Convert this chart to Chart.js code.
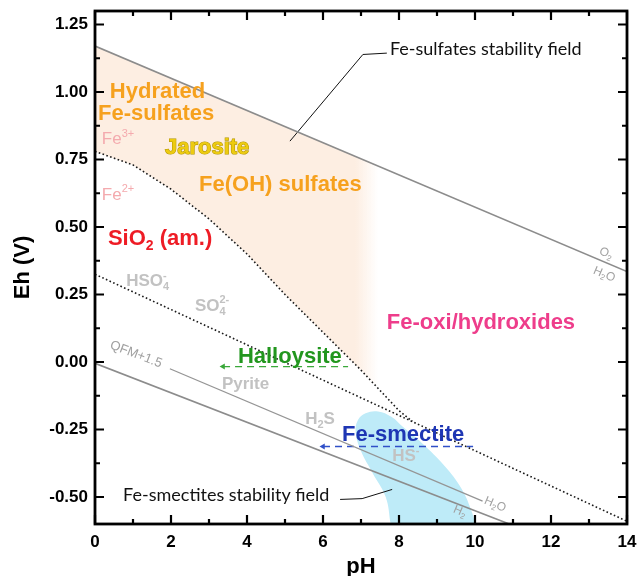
<!DOCTYPE html>
<html>
<head>
<meta charset="utf-8">
<script src="https://cdn.jsdelivr.net/npm/chart.js@4"></script>
<style>
  html, body { margin: 0; padding: 0; background: #fff; }
  #wrap { width: 643px; height: 576px; }
</style>
</head>
<body>
<div id="wrap"><canvas id="grafico"></canvas></div>
<script>
// Eh-pH boundaries, as [pH, Eh]
const o2Line = [[0, 1.17], [14, 0.335]];
const h2oLine = [[0, -0.005], [10.9, -0.6]];
const qfmLine = [[1.97, -0.025], [10.2, -0.515]];
const sulfurLine = [[0, 0.325], [14, -0.59]];
const ironLine = [[0, 0.78], [1, 0.73], [2, 0.64], [3, 0.53], [4, 0.40], [5, 0.25], [6, 0.11], [7, -0.03], [8, -0.18], [8.35, -0.22]];

// shaded fields
const sulfatesField = [[0, 1.17], [7.45, 0.726], [7.45, -0.0975], [7, -0.03], [6, 0.11], [5, 0.25], [4, 0.40], [3, 0.53], [2, 0.64], [1, 0.73], [0, 0.78], [0, 1.17]];
const smectiteField = [[7.78, -0.6], [7.65, -0.5], [7.3, -0.41], [7.0, -0.33], [6.86, -0.26], [6.92, -0.215], [7.12, -0.19], [7.45, -0.183], [7.8, -0.203], [8.1, -0.24], [8.6, -0.3], [9.2, -0.385], [9.65, -0.47], [9.93, -0.56], [10.0, -0.6]];

// arrows and pointer lines
const halloysiteArrow = [[3.37, -0.017], [6.66, -0.017]];
const smectiteArrow = [[6.0, -0.313], [9.95, -0.313]];
const sulfatesPointer = [[5.13, 0.818], [7.05, 1.139], [7.68, 1.144]];
const smectitesPointer = [[6.45, -0.509], [7.03, -0.506], [7.82, -0.472]];

const xTicks = [0, 2, 4, 6, 8, 10, 12, 14];
const yTicks = [-0.5, -0.25, 0, 0.25, 0.5, 0.75, 1.0, 1.25];

const family = "'Liberation Sans', Arial, sans-serif";
const noteFamily = "Lato, 'Open Sans', sans-serif";

// text in the diagram: _x_ = subscript, ^x^ = superscript
const fieldLabels = [
  {text: 'Hydrated', x: 0.39, y: 1.0, size: 22, weight: 'bold', color: '#F6A11E'},
  {text: 'Fe-sulfates', x: 0.08, y: 0.917, size: 22, weight: 'bold', color: '#F6A11E'},
  {text: 'Fe^3+^', x: 0.18, y: 0.824, size: 17, color: '#F4AAAE'},
  {text: 'Jarosite', x: 1.84, y: 0.794, size: 22, weight: 'bold', color: '#EDCB10', stroke: '#B09400'},
  {text: 'Fe(OH) sulfates', x: 2.74, y: 0.657, size: 22, weight: 'bold', color: '#F6A11E'},
  {text: 'Fe^2+^', x: 0.18, y: 0.617, size: 17, color: '#F4AAAE'},
  {text: 'SiO_2_ (am.)', x: 0.34, y: 0.454, size: 22, weight: 'bold', color: '#EE1C25'},
  {text: 'HSO_4_^-^', x: 0.82, y: 0.298, size: 17, weight: 'bold', color: '#C2C2C2'},
  {text: 'SO_4_^2-^', x: 2.63, y: 0.206, size: 17, weight: 'bold', color: '#C2C2C2'},
  {text: 'Fe-oxi/hydroxides', x: 7.68, y: 0.146, size: 22, weight: 'bold', color: '#EE3D8B'},
  {text: 'Halloysite', x: 3.76, y: 0.02, size: 22, weight: 'bold', color: '#22961E'},
  {text: 'Pyrite', x: 3.34, y: -0.083, size: 17, weight: 'bold', color: '#C2C2C2'},
  {text: 'QFM+1.5', x: 1.08, y: 0.028, size: 13, color: '#A0A0A0', rot: 21, align: 'center'},
  {text: 'H_2_S', x: 5.53, y: -0.213, size: 17, weight: 'bold', color: '#C2C2C2'},
  {text: 'Fe-smectite', x: 6.5, y: -0.269, size: 22, weight: 'bold', color: '#1E36B4'},
  {text: 'HS^-^', x: 7.82, y: -0.35, size: 17, weight: 'bold', color: '#C2C2C2'},
  {text: 'H_2_O', x: 10.53, y: -0.528, size: 12, color: '#A0A0A0', rot: 23, align: 'center'},
  {text: 'H_2_', x: 9.6, y: -0.554, size: 12, color: '#A0A0A0', rot: 23, align: 'center'},
  {text: 'O_2_', x: 13.45, y: 0.402, size: 12, color: '#A0A0A0', rot: 23, align: 'center'},
  {text: 'H_2_O', x: 13.4, y: 0.324, size: 12, color: '#A0A0A0', rot: 23, align: 'center'},
  {text: 'Fe-sulfates stability field', x: 7.76, y: 1.157, size: 18, color: '#111', family: noteFamily},
  {text: 'Fe-smectites stability field', x: 0.74, y: -0.494, size: 18, color: '#111', family: noteFamily}
];

const pts = arr => arr.map(([x, y]) => ({x, y}));

function parts(str) {
  const out = [];
  const re = /_([^_]+)_|\^([^^]+)\^|([^_^]+)/g;
  let m;
  while ((m = re.exec(str))) {
    if (m[1]) out.push({t: m[1], k: 'sub'});
    else if (m[2]) out.push({t: m[2], k: 'sup'});
    else out.push({t: m[3], k: ''});
  }
  return out;
}

function drawRich(ctx, lab, px, py) {
  const ps = parts(lab.text);
  const small = Math.round(lab.size * 0.65);
  const fontFor = p => `${lab.weight || 'normal'} ${p.k ? small : lab.size}px ${lab.family || family}`;
  let cx = 0, prev = null, subStart = 0;
  const placed = ps.map(p => {
    ctx.font = fontFor(p);
    const w = ctx.measureText(p.t).width;
    let x0 = cx;
    if (p.k === 'sup' && prev && prev.k === 'sub') {
      x0 = subStart;
      cx = Math.max(cx, x0 + w);
    } else {
      cx = x0 + w;
    }
    if (p.k === 'sub') subStart = x0;
    prev = p;
    return {p, x0};
  });
  const start = lab.align === 'center' ? -cx / 2 : 0;
  ctx.save();
  ctx.translate(px, py);
  if (lab.rot) ctx.rotate(lab.rot * Math.PI / 180);
  ctx.textBaseline = 'middle';
  ctx.textAlign = 'left';
  placed.forEach(({p, x0}) => {
    ctx.font = fontFor(p);
    const dy = p.k === 'sub' ? lab.size * 0.3 : p.k === 'sup' ? -lab.size * 0.35 : 0;
    if (lab.stroke) {
      ctx.strokeStyle = lab.stroke;
      ctx.lineWidth = 1.1;
      ctx.strokeText(p.t, start + x0, dy);
    }
    ctx.fillStyle = lab.color;
    ctx.fillText(p.t, start + x0, dy);
  });
  ctx.restore();
}

// labels inside the plot, then the boxed frame with inward ticks
const diagramText = {
  id: 'diagramText',
  afterDatasetsDraw(chart) {
    const {ctx, scales: {x, y}} = chart;
    fieldLabels.forEach(lab => drawRich(ctx, lab, x.getPixelForValue(lab.x), y.getPixelForValue(lab.y)));
  },
  afterDraw(chart) {
    const {ctx, chartArea: a, scales: {x, y}} = chart;
    ctx.save();
    ctx.strokeStyle = '#000';
    ctx.lineWidth = 2.2;
    ctx.beginPath();
    for (let v = 0; v <= 14; v++) {
      const px = x.getPixelForValue(v);
      const len = v % 2 === 0 ? 9 : 5;
      ctx.moveTo(px, a.bottom); ctx.lineTo(px, a.bottom - len);
      ctx.moveTo(px, a.top); ctx.lineTo(px, a.top + len);
    }
    for (let i = -4; i <= 10; i++) {
      const py = y.getPixelForValue(i * 0.125);
      const len = i % 2 === 0 ? 9 : 5;
      ctx.moveTo(a.left, py); ctx.lineTo(a.left + len, py);
      ctx.moveTo(a.right, py); ctx.lineTo(a.right - len, py);
    }
    ctx.stroke();
    ctx.lineWidth = 2.8;
    ctx.strokeRect(a.left, a.top, a.right - a.left, a.bottom - a.top);
    ctx.restore();
  }
};

const peach = 'rgb(253, 238, 226)';

function lineSet(data, color, width, dash) {
  return {data: pts(data), borderColor: color, borderWidth: width, borderDash: dash || [],
          pointRadius: 0, fill: false, tension: 0, order: 1};
}

function arrowSet(data, color) {
  return {data: pts(data), borderColor: color, borderWidth: 1.3, borderDash: [7, 5],
          pointRadius: [3.5, 0], pointStyle: 'triangle', rotation: -90,
          pointBackgroundColor: color, pointBorderWidth: 0, fill: false, tension: 0, order: 1};
}

new Chart(document.getElementById('grafico'), {
  type: 'line',
  data: {
    datasets: [
      lineSet(o2Line, '#8C8C8C', 1.6),
      lineSet(h2oLine, '#8C8C8C', 1.6),
      lineSet(qfmLine, '#959595', 1.3),
      lineSet(sulfurLine, '#1A1A1A', 1.6, [1.6, 2.4]),
      lineSet(ironLine, '#1A1A1A', 1.6, [1.6, 2.4]),
      lineSet(sulfatesPointer, '#111', 1),
      lineSet(smectitesPointer, '#111', 1),
      arrowSet(halloysiteArrow, '#3AA83A'),
      arrowSet(smectiteArrow, '#3050C8'),
      {
        data: pts(sulfatesField), borderWidth: 0, pointRadius: 0, tension: 0, fill: 'shape', order: 10,
        backgroundColor: c => {
          const chart = c.chart;
          if (!chart.chartArea) return peach;
          const xs = chart.scales.x;
          const g = chart.ctx.createLinearGradient(xs.getPixelForValue(0), 0, xs.getPixelForValue(7.45), 0);
          g.addColorStop(0, peach);
          g.addColorStop(0.92, peach);
          g.addColorStop(1, 'rgba(253, 238, 226, 0)');
          return g;
        }
      },
      {
        data: pts(smectiteField), borderWidth: 0, pointRadius: 0, tension: 0.4, fill: 'shape', order: 10,
        backgroundColor: '#BEEBF8'
      }
    ]
  },
  options: {
    responsive: true,
    maintainAspectRatio: false,
    animation: false,
    layout: {padding: {top: 11, right: 16, left: 0, bottom: 0}},
    plugins: {legend: {display: false}, tooltip: {enabled: false}},
    scales: {
      x: {
        type: 'linear', min: 0, max: 14,
        grid: {display: false, drawTicks: false},
        border: {display: false},
        ticks: {padding: 8, color: '#000', font: {family, size: 17, weight: 'bold'}},
        afterBuildTicks: s => { s.ticks = xTicks.map(v => ({value: v})); },
        afterFit: s => { s.height = 52; s.paddingLeft = 0; s.paddingRight = 0; },
        title: {display: true, text: 'pH', color: '#000', font: {family, size: 22, weight: 'bold'}, padding: {top: 0, bottom: -4}}
      },
      y: {
        type: 'linear', min: -0.6, max: 1.3,
        grid: {display: false, drawTicks: false},
        border: {display: false},
        ticks: {padding: 7, color: '#000', font: {family, size: 17, weight: 'bold'}, callback: v => v.toFixed(2)},
        afterBuildTicks: s => { s.ticks = yTicks.map(v => ({value: v})); },
        afterFit: s => { s.width = 95; s.paddingTop = 0; s.paddingBottom = 0; },
        title: {display: true, text: 'Eh (V)', color: '#000', font: {family, size: 22, weight: 'bold'}, padding: {top: 10, bottom: 0}}
      }
    }
  },
  plugins: [diagramText]
});
</script>
</body>
</html>
